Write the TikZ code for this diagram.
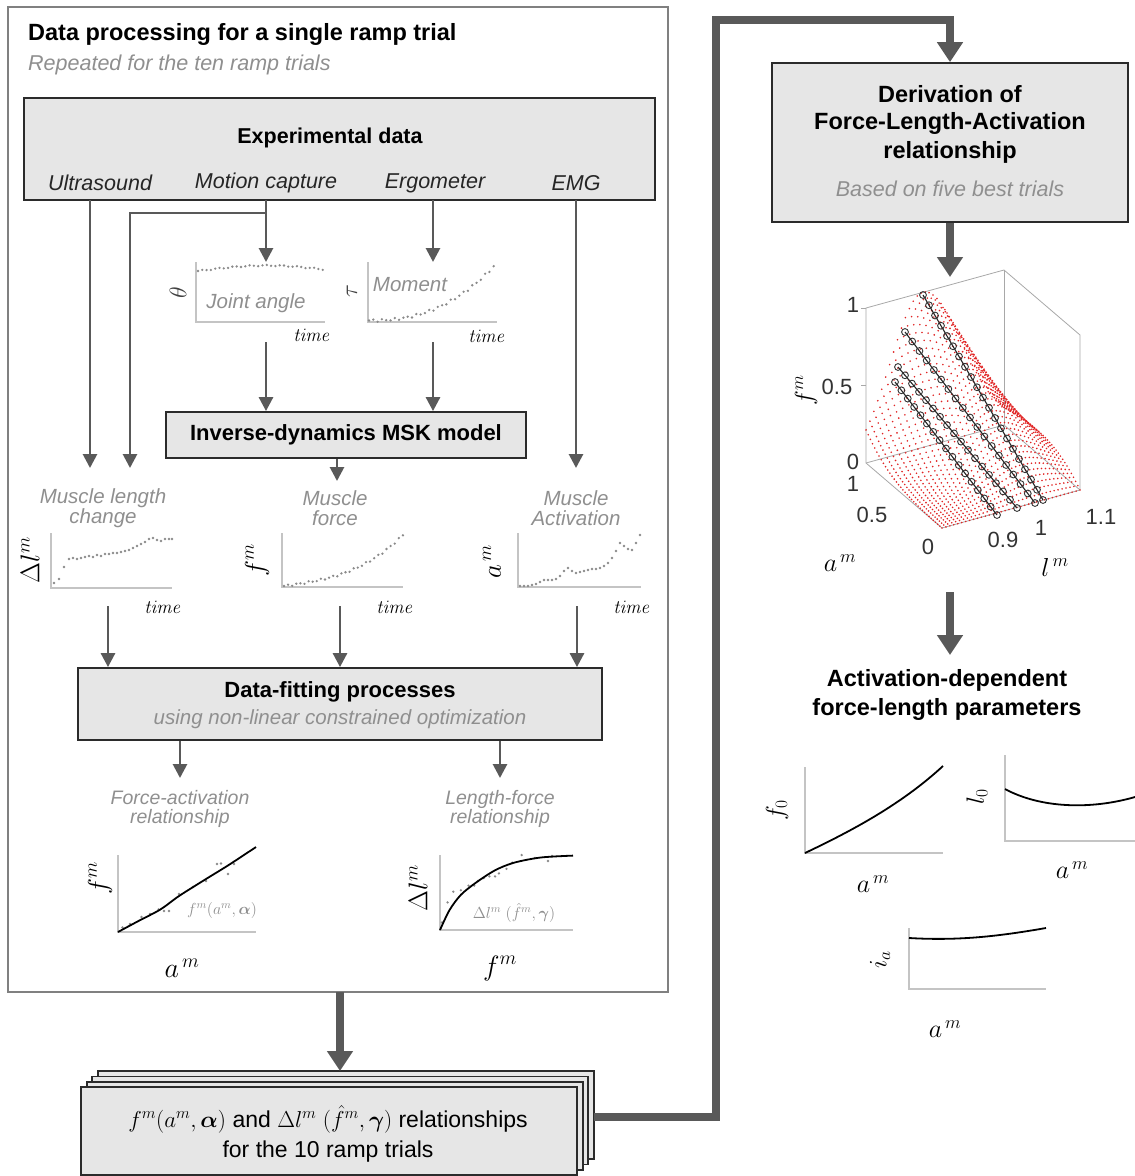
\RequirePackage{fix-cm}
\documentclass[tikz,border=0pt]{standalone}
\usepackage[no-math]{fontspec}
\setmainfont{Liberation Sans}
\usepackage{amsmath}
\usepackage{bm}
\usetikzlibrary{arrows.meta,calc}
\definecolor{boxfill}{HTML}{E6E6E6}
\definecolor{boxline}{HTML}{2B2B2B}
\definecolor{arrg}{HTML}{595959}
\definecolor{gtext}{HTML}{8F8F8F}
\definecolor{axg}{HTML}{C4C4C4}
\definecolor{dotg}{HTML}{8A8A8A}
\definecolor{outerg}{HTML}{808080}
\definecolor{surfred}{HTML}{E02424}
\definecolor{boxg}{HTML}{A8A8A8}
\newcommand{\fsz}[1]{\fontsize{#1}{#1}\selectfont}
\begin{document}
\begin{tikzpicture}[x=1pt,y=-1pt,
  graybox/.style={draw=boxline,line width=1.8pt,fill=boxfill,inner sep=0pt},
  tarrow/.style={draw=arrg,line width=2.8pt,-{Triangle[width=14pt,length=14pt]}},
  barrow/.style={draw=arrg,line width=8pt,-{Triangle[width=25pt,length=20pt]}},
  glabel/.style={text=gtext,font=\fsz{20.5}\itshape,align=center,inner sep=0pt},
  blabel/.style={font=\fsz{22}\bfseries,inner sep=0pt,align=center,text=black},
  srclabel/.style={font=\fsz{21.5}\itshape,inner sep=0pt,text=black!85},
  tlabel/.style={font=\fsz{19},inner sep=0pt},
  axl/.style={draw=axg,line width=1.4pt},
  mlab/.style={font=\fsz{27},inner sep=0pt},
  ticklab/.style={font=\fsz{22},inner sep=0pt,text=black!80},
  dt/.style={fill=dotg,draw=none},
  fitcurve/.style={draw=black,line width=1.8pt},
  declare function={tz(\a)=0.41+0.3*(1-\a);
    ww(\a,\t)=(\t<tz(\a))?0.33:0.4;
    ff(\a,\t)=\a*exp(-((\t-tz(\a))/ww(\a,\t))^2);
    px(\a,\t)=942-76*\a+138*\t;
    py(\a,\t,\f)=528-65*\a-38*\t-155*\f;}
]
\useasboundingbox (0,0) rectangle (1135,1176);

% ---------------- outer box ----------------
\node[draw=outerg,line width=1.6pt,minimum width=660pt,minimum height=985pt,inner sep=0pt] (outer) at (338,499.5) {};
\node[anchor=west,font=\fsz{23.5}\bfseries,inner sep=0pt] (title) at (28,34) {Data processing for a single ramp trial};
\node[anchor=west,glabel,font=\fsz{21.5}\itshape] (subtitle) at (28,65) {Repeated for the ten ramp trials};

% ---------------- experimental data ----------------
\node[graybox,minimum width=631pt,minimum height=102pt] (exp) at (339.5,149) {};
\node[blabel,font=\fsz{21.5}\bfseries] (expt) at (330,138) {Experimental data};
\node[srclabel] (us) at (100,183) {Ultrasound};
\node[srclabel] (mc) at (266,183) {Motion capture};
\node[srclabel] (erg) at (435,183) {Ergometer};
\node[srclabel] (emg) at (576,183) {EMG};

\coordinate (usT) at (90,200);   \coordinate (usE) at (90,468);
\coordinate (mcT) at (266,200);  \coordinate (mcE) at (266,262);
\coordinate (mcB) at (266,213);  \coordinate (mcB2) at (130,213); \coordinate (mcE2) at (130,468);
\coordinate (erT) at (433,200);  \coordinate (erE) at (433,262);
\coordinate (emT) at (576,200);  \coordinate (emE) at (576,468);
\draw[tarrow] (usT) -- (usE);
\draw[tarrow] (mcT) -- (mcE);
\draw[tarrow] (mcB) -- (mcB2) -- (mcE2);
\draw[tarrow] (erT) -- (erE);
\draw[tarrow] (emT) -- (emE);

% ---------------- joint angle plot ----------------
\begin{scope}[shift={(196,322)}]
  \draw[axl] (0,-60) -- (0,0) -- (129,0);
  \foreach \i in {0,...,29} {
    \pgfmathsetmacro\h{51+5.5*sin(\i*5.6)+0.6*sin(\i*97)}
    \fill[dt] ({2+\i*4.3},{-\h}) circle (1.3);
  }
\end{scope}
\node[glabel] (jalab) at (256,303) {Joint angle};
\node[rotate=90,font=\fsz{24},inner sep=0pt,text=black!75] (theta) at (178,293) {$\theta$};
\node[tlabel] (jatime) at (312,335) {$\mathit{time}$};

% ---------------- moment plot ----------------
\begin{scope}[shift={(368,322)}]
  \draw[axl] (0,-60) -- (0,0) -- (129,0);
  \foreach \i in {0,...,29} {
    \pgfmathsetmacro\h{1.5+54*(\i/29)^2.4+1.3*sin(\i*137)}
    \fill[dt] ({1+\i*4.3},{-\h}) circle (1.3);
  }
\end{scope}
\node[glabel] (momlab) at (410,285) {Moment};
\node[rotate=90,font=\fsz{24},inner sep=0pt,text=black!75] (tau) at (352,291) {$\tau$};
\node[tlabel] (motime) at (487,336) {$\mathit{time}$};

% ---------------- MSK model ----------------
\node[graybox,minimum width=360pt,minimum height=46pt] (msk) at (346,435) {};
\node[blabel] (mskt) at (346,435) {Inverse-dynamics MSK model};
\coordinate (jaB) at (266,342); \coordinate (moB) at (433,342);
\draw[tarrow] (jaB) -- (jaB |- msk.north);
\draw[tarrow] (moB) -- (moB |- msk.north);
\coordinate (mskO) at (337,481);
\draw[tarrow] (msk.south -| mskO) -- (mskO);

% ---------------- muscle length change ----------------
\node[glabel] (mlc) at (103,508) {Muscle length\\change};
\begin{scope}[shift={(51,588)}]
  \draw[axl] (0,-55) -- (0,0) -- (121,0);
  \foreach \x/\h in {3/5,8/9,13/21,18/29,22/30,26/29,30/30,34/31,38/32,42/31,46/33,50/32,54/34,58/34,62/35,66/35,70/36,74/37,78/38,82/40,86/42,90/44,94/46,98/49,102/50,106/48,110/47,114/49,118/49,121/49}
    \fill[dt] (\x,-\h) circle (1.3);
\end{scope}
\node[rotate=90,mlab] (dlm) at (30,560) {$\Delta l^m$};
\node[tlabel] (mltime) at (163,607) {$\mathit{time}$};

% ---------------- muscle force ----------------
\node[glabel] (mf) at (335,508) {Muscle\\force};
\begin{scope}[shift={(282,587)}]
  \draw[axl] (0,-54) -- (0,0) -- (121,0);
  \foreach \i in {0,...,29} {
    \pgfmathsetmacro\s{\i/29}
    \pgfmathsetmacro\h{1+17*\s+34*\s^3+1.0*sin(\i*131)}
    \fill[dt] ({2+\i*4.1},{-\h}) circle (1.3);
  }
\end{scope}
\node[rotate=90,mlab] (fmlab) at (257,560) {$f^m$};
\node[tlabel] (mftime) at (395,607) {$\mathit{time}$};

% ---------------- muscle activation ----------------
\node[glabel] (ma) at (576,508) {Muscle\\Activation};
\begin{scope}[shift={(518,587)}]
  \draw[axl] (0,-54) -- (0,0) -- (123,0);
  \foreach \x/\h in {2/1,6/1,10/1,14/2,18/3,22/5,26/7,30/7,34/7,38/8,42/11,46/16,50/19,54/16,58/14,62/15,66/16,70/17,74/18,78/18,82/19,86/21,90/24,94/29,98/36,102/44,106/41,110/38,114/37,118/44,122/52}
    \fill[dt] (\x,-\h) circle (1.3);
\end{scope}
\node[rotate=90,mlab] (amlab) at (492,562) {$a^{\,m}$};
\node[tlabel] (matime) at (632,607) {$\mathit{time}$};

% ---------------- data fitting ----------------
\node[graybox,minimum width=524pt,minimum height=72pt] (fit) at (340,704) {};
\node[blabel] (fitt) at (340,692) {Data-fitting processes};
\node[glabel] (fits) at (340,719) {using non-linear constrained optimization};
\coordinate (mlA) at (108,606); \coordinate (mfA) at (340,606); \coordinate (maA) at (577,606);
\draw[tarrow] (mlA) -- (mlA |- fit.north);
\draw[tarrow] (mfA) -- (mfA |- fit.north);
\draw[tarrow] (maA) -- (maA |- fit.north);
\coordinate (faA) at (180,778); \coordinate (lfA) at (500,778);
\draw[tarrow] (fit.south -| faA) -- (faA);
\draw[tarrow] (fit.south -| lfA) -- (lfA);

% ---------------- force-activation fit ----------------
\node[glabel,font=\fsz{19.5}\itshape] (fat) at (180,809) {Force-activation\\relationship};
\begin{scope}[shift={(118,932)}]
  \draw[axl] (0,-77) -- (0,0) -- (138,0);
  \foreach \x/\h in {4.5/4.5,23.5/15,40.6/22.6,46/21,51/21,61/38,75/45,88/51,99/68,103/68.5,110/58,116/68,12/8,32/18}
    \fill[dt] (\x,-\h) circle (1.3);
  \draw[fitcurve] plot[smooth] coordinates {(0,0) (19.7,-10.6) (42.5,-22.6) (61,-36) (88,-53) (110.7,-67) (138,-85)};
\end{scope}
\node[font=\fsz{16},inner sep=0pt,text=gtext] (faf) at (222,910) {$f^m(a^m,\bm{\alpha})$};
\node[rotate=90,mlab] (fafm) at (100,878) {$f^m$};
\node[mlab,font=\fsz{28}] (faam) at (182,968) {$a^{\,m}$};

% ---------------- length-force fit ----------------
\node[glabel,font=\fsz{19.5}\itshape] (lft) at (500,809) {Length-force\\relationship};
\begin{scope}[shift={(440,930)}]
  \draw[axl] (0,-75) -- (0,0) -- (133,0);
  \foreach \x/\h in {1.9/7.6,7.6/27.6,13.3/38.3,20.9/39.8,28.5/44.4,34.2/44.4,38/49,43.7/52,49.4/53.6,55.1/53.6,58.9/56.6,66.5/61.2,72.2/67.3,81.7/75,95/72,108/69,112/74}
    \fill[dt] (\x,-\h) circle (1.3);
  \draw[fitcurve] plot[smooth] coordinates {(0,0) (9.5,-19.9) (20.9,-35.2) (36,-47.4) (55,-59.7) (74,-67.3) (100.7,-72.5) (133,-74.4)};
\end{scope}
\node[font=\fsz{16},inner sep=0pt,text=gtext] (lff) at (514,913) {$\Delta l^m\;(\hat{f}^m,\bm{\gamma})$};
\node[rotate=90,mlab] (lfdl) at (418,888) {$\Delta l^m$};
\node[mlab,font=\fsz{28}] (lffm) at (500,968) {$f^m$};

% ---------------- stacked box ----------------
\foreach \k in {3,2,1}
  \draw[graybox] ({81+5.6*\k},{1087-5.3*\k}) rectangle ++(496,88);
\node[graybox,minimum width=496pt,minimum height=88pt] (stack) at (329,1131) {};
\node[font=\fsz{23},inner sep=0pt] (st1) at (328,1119) {$f^m(a^m,\bm{\alpha})$ and $\Delta l^m\;(\hat{f}^m,\bm{\gamma})$ relationships};
\node[font=\fsz{23},inner sep=0pt] (st2) at (328,1152) {for the 10 ramp trials};
\coordinate (oB) at (340,992); \coordinate (stT) at (340,1071);
\draw[barrow] (oB) -- (stT);

% ---------------- derivation box ----------------
\node[graybox,minimum width=356pt,minimum height=159pt] (deriv) at (950,142.5) {};
\node[blabel,font=\fsz{23.5}\bfseries] (dv1) at (950,94) {Derivation of};
\node[blabel,font=\fsz{23.5}\bfseries] (dv2) at (950,123) {Force-Length-Activation};
\node[blabel,font=\fsz{23.5}\bfseries] (dv3) at (950,152) {relationship};
\node[glabel,font=\fsz{21.5}\itshape] (dv4) at (950,189) {Based on five best trials};
\coordinate (sR) at (594,1117); \coordinate (k1) at (716,1117); \coordinate (k2) at (716,20); \coordinate (k3) at (950,20);
\draw[barrow] (sR) -- (k1) -- (k2) -- (k3) -- (deriv.north);

% ---------------- 3D surface ----------------
\coordinate (s3T) at (950,277);
\draw[barrow] (deriv.south) -- (s3T);
\begin{scope}[draw=boxg,line width=0.8pt]
  \draw ({px(1,0)},{py(1,0,0)}) -- ({px(1,0)},{py(1,0,1)}) -- ({px(1,1)},{py(1,1,1)}) -- ({px(0,1)},{py(0,1,1)}) -- ({px(0,1)},{py(0,1,0)});
  \draw ({px(1,1)},{py(1,1,1)}) -- ({px(1,1)},{py(1,1,0)});
  \draw ({px(1,0)},{py(1,0,0)}) -- ({px(1,1)},{py(1,1,0)}) -- ({px(0,1)},{py(0,1,0)});
  \draw ({px(1,0)},{py(1,0,0)}) -- ({px(0,0)},{py(0,0,0)}) -- ({px(0,1)},{py(0,1,0)});
  \draw ({px(1,0)},{py(1,0,0.5)}) -- ++(-5,0);
  \draw ({px(1,0)},{py(1,0,1)}) -- ++(-5,0);
\end{scope}
\foreach \i in {0,...,35} {
  \foreach \j in {0,...,35} {
    \pgfmathsetmacro\aa{\i/35}
    \pgfmathsetmacro\tt{\j/35}
    \pgfmathsetmacro\ffv{ff(\aa,\tt)}
    \fill[surfred] ({px(\aa,\tt)},{py(\aa,\tt,\ffv)}) circle (0.9);
  }
}
\foreach \xa/\ya/\xb/\yb/\n in {923/295/1043/500/20, 905/332/1035/503/18, 898/367/1017/508/17, 895/382/997/515/16} {
  \draw[black!85,line width=1.1pt] (\xa,\ya) -- (\xb,\yb);
  \foreach \k in {0,...,\n} {
    \draw[black!80,line width=0.9pt] ({\xa+(\xb-\xa)*\k/\n},{\ya+(\yb-\ya)*\k/\n}) circle (3.4);
  }
}
\node[ticklab] (zt1) at (853,305) {1};
\node[ticklab] (zt2) at (837,387) {0.5};
\node[ticklab] (zt3) at (853,462) {0};
\node[ticklab] (at1) at (853,484) {1};
\node[ticklab] (at2) at (872,515) {0.5};
\node[ticklab] (at3) at (928,547) {0};
\node[ticklab] (lt1) at (1003,540) {0.9};
\node[ticklab] (lt2) at (1041,528) {1};
\node[ticklab] (lt3) at (1101,517) {1.1};
\node[rotate=90,mlab,font=\fsz{25}] (fm3) at (806,390) {$f^m$};
\node[mlab,font=\fsz{26}] (am3) at (840,563) {$a^{\,m}$};
\node[mlab,font=\fsz{26}] (lm3) at (1055,567) {$l^{\,m}$};

% ---------------- activation-dependent parameters ----------------
\coordinate (s3B) at (950,592); \coordinate (adT) at (950,655);
\draw[barrow] (s3B) -- (adT);
\node[blabel,font=\fsz{23.5}\bfseries] (ad1) at (947,680) {Activation-dependent};
\node[blabel,font=\fsz{23.5}\bfseries] (ad2) at (947,709) {force-length parameters};

\draw[axl] (805,767) -- (805,853) -- (943,853);
\draw[fitcurve] (805,853) .. controls (860,827) and (905,801) .. (943,766);
\node[rotate=90,mlab,font=\fsz{25}] (f0l) at (777,810) {$f_0$};
\node[mlab,font=\fsz{26}] (f0a) at (873,884) {$a^{\,m}$};

\draw[axl] (1005,755) -- (1005,841) -- (1135,841);
\draw[fitcurve] (1005,789) .. controls (1040,808) and (1090,810) .. (1135,797);
\node[rotate=90,mlab,font=\fsz{25}] (l0l) at (977,797) {$l_0$};
\node[mlab,font=\fsz{26}] (l0a) at (1072,870) {$a^{\,m}$};

\draw[axl] (909,928) -- (909,989) -- (1046,989);
\draw[fitcurve] (909,938) .. controls (960,941) and (1000,936) .. (1046,928);
\node[rotate=90,mlab,font=\fsz{25}] (ial) at (880,960) {$i_a$};
\node[mlab,font=\fsz{26}] (iaa) at (945,1029) {$a^{\,m}$};
\end{tikzpicture}
\end{document}
